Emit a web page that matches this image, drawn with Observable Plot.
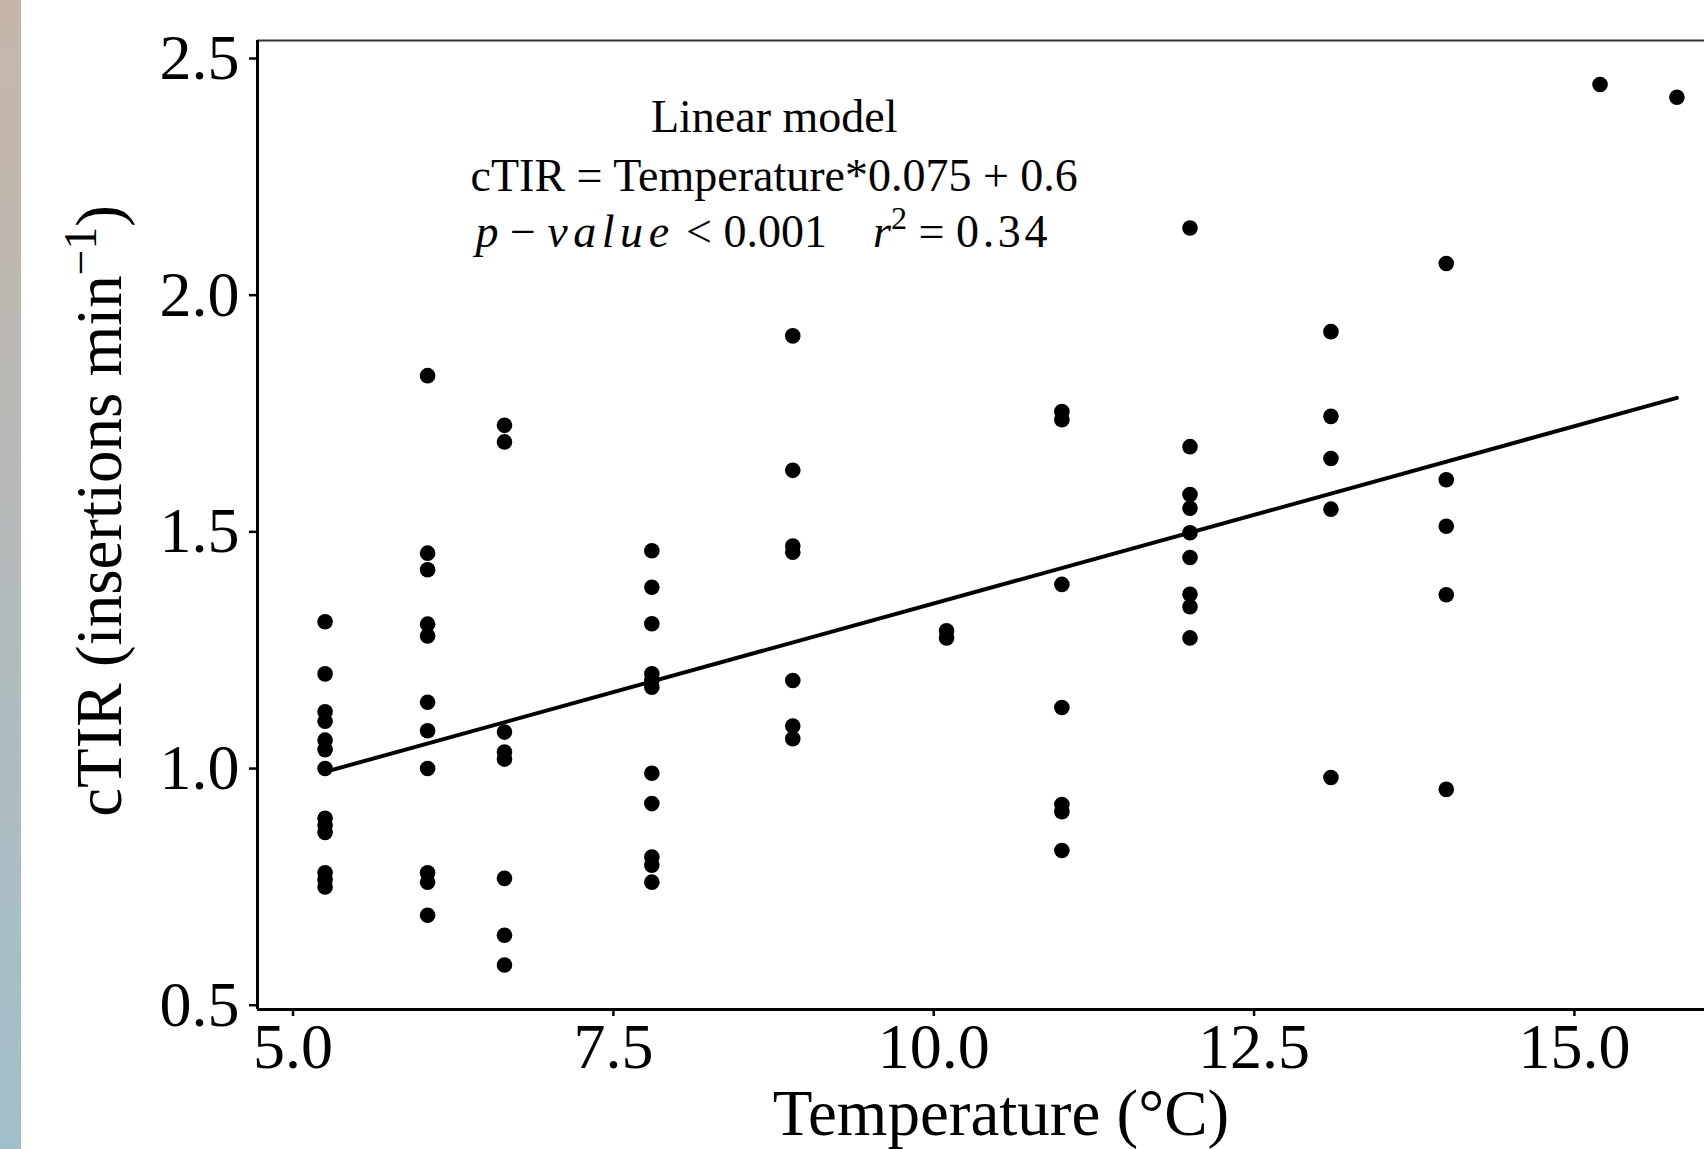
<!DOCTYPE html>
<html><head><meta charset="utf-8">
<script src="https://cdn.jsdelivr.net/npm/d3@7"></script>
<script src="https://cdn.jsdelivr.net/npm/@observablehq/plot@0.6"></script>
<style>
html,body{margin:0;padding:0;background:#fff;}
#wrap{position:relative;width:1704px;height:1149px;overflow:hidden;background:#fff;}
#wrap svg{position:absolute;left:0;top:0;}
#strip{position:absolute;left:0;top:0;width:21px;height:1149px;background:linear-gradient(#c6b6a9,#b4babb 50%,#a1bfca);z-index:2;}
</style></head><body><div id="wrap"><div id="strip"></div></div>
<script>
// Temperatures (°C) of each group of observations
const groupTemps = [5.25, 6.05, 6.65, 7.8, 8.9, 10.1, 11.0, 12.0, 13.1, 14.0, 15.2, 15.8];
// cTIR values (insertions min^-1) per temperature group
const groupValues = [
  [1.31, 1.20, 1.12, 1.10, 1.06, 1.04, 1.00, 0.895, 0.88, 0.865, 0.78, 0.765, 0.75],
  [1.83, 1.455, 1.42, 1.305, 1.28, 1.14, 1.08, 1.00, 0.78, 0.76, 0.69],
  [1.725, 1.69, 1.077, 1.035, 1.02, 0.768, 0.648, 0.585],
  [1.46, 1.383, 1.306, 1.20, 1.186, 1.172, 0.99, 0.926, 0.813, 0.796, 0.76],
  [1.914, 1.63, 1.47, 1.457, 1.186, 1.09, 1.063],
  [1.291, 1.276],
  [1.754, 1.737, 1.389, 1.129, 0.924, 0.909, 0.827],
  [2.142, 1.68, 1.579, 1.55, 1.498, 1.446, 1.368, 1.342, 1.276],
  [1.923, 1.744, 1.655, 1.548, 0.981],
  [2.067, 1.61, 1.512, 1.367, 0.956],
  [2.445],
  [2.418]
];
// fitted line end points
const fitTemps = [5.25, 15.8];
const fitValues = [0.993, 1.783];
// axes
const xTicks = [5.0, 7.5, 10.0, 12.5, 15.0];
const yTicks = [0.5, 1.0, 1.5, 2.0, 2.5];
const xDomain = [4.7225, 16.3275];
const yDomain = [0.491, 2.538];
const xTitle = "Temperature (°C)";
const yTitle = "cTIR (insertions min−1)";
// annotation
const annX = [8.755, 8.755, 8.67];
const annY = [2.375, 2.252, 2.132];
const annText = ["Linear model", "cTIR = Temperature*0.075 + 0.6", "p − value < 0.001    r2 = 0.34"];

const points = groupTemps.flatMap((t, i) => groupValues[i].map(v => ({t, v})));
const fit = fitTemps.map((t, i) => ({t, v: fitValues[i]}));
const ann = annText.map((text, i) => ({x: annX[i], y: annY[i], text}));

const FONT = "'Liberation Serif', 'Times New Roman', serif";

const svg = Plot.plot({
  width: 1704, height: 1149,
  marginLeft: 257, marginRight: -40, marginTop: 40, marginBottom: 140,
  style: {fontFamily: FONT, color: "black", background: "transparent", overflow: "visible"},
  x: {domain: xDomain},
  y: {domain: yDomain},
  marks: [
    Plot.ruleY([yDomain[1]], {stroke: "#333", strokeWidth: 2}),
    Plot.line(fit, {x: "t", y: "v", stroke: "black", strokeWidth: 4}),
    Plot.dot(points, {x: "t", y: "v", r: 7.8, fill: "black"}),
    Plot.ruleX([xDomain[0]], {stroke: "black", strokeWidth: 3}),
    Plot.ruleY([yDomain[0]], {stroke: "black", strokeWidth: 3}),
    Plot.axisY({ticks: yTicks, tickFormat: d3.format(".1f"), tickSize: 8, tickPadding: 10, fontSize: 64, label: null, strokeWidth: 2.5}),
    Plot.axisX({ticks: xTicks, tickFormat: d3.format(".1f"), tickSize: 7, tickPadding: 6, fontSize: 64, label: null, strokeWidth: 2.5}),
    Plot.text([xTitle], {frameAnchor: "bottom", lineAnchor: "middle", textAnchor: "middle", dy: 105, fontSize: 65, text: d => d}),
    Plot.text([yTitle], {frameAnchor: "left", lineAnchor: "middle", textAnchor: "middle", rotate: -90, dx: -157.5, dy: -14, fontSize: 65, text: d => d}),
    Plot.text(ann, {x: "x", y: "y", text: "text", fontSize: 46, textAnchor: "middle"})
  ]
});
document.getElementById("wrap").appendChild(svg);

function rich(match, parts) {
  d3.select(svg).selectAll("text").filter(function() { return this.textContent === match; }).each(function() {
    const t = d3.select(this);
    t.text(null).style("white-space", "pre");
    for (const p of parts) {
      const s = t.append("tspan").text(p.t);
      if (p.i) s.attr("font-style", "italic");
      if (p.ls) s.attr("letter-spacing", p.ls);
      if (p.sup) s.attr("baseline-shift", "super").attr("font-size", "70%");
    }
  });
}
rich(annText[2], [
  {t: "p", i: true}, {t: " − "}, {t: "value", i: true, ls: "0.12em"}, {t: " < 0.001    "},
  {t: "r", i: true}, {t: "2", sup: true}, {t: " = "}, {t: "0.34", ls: "0.08em"}
]);
rich(yTitle, [{t: "cTIR (insertions min"}, {t: "−1", sup: true}, {t: ")"}]);
</script>
</body></html>
